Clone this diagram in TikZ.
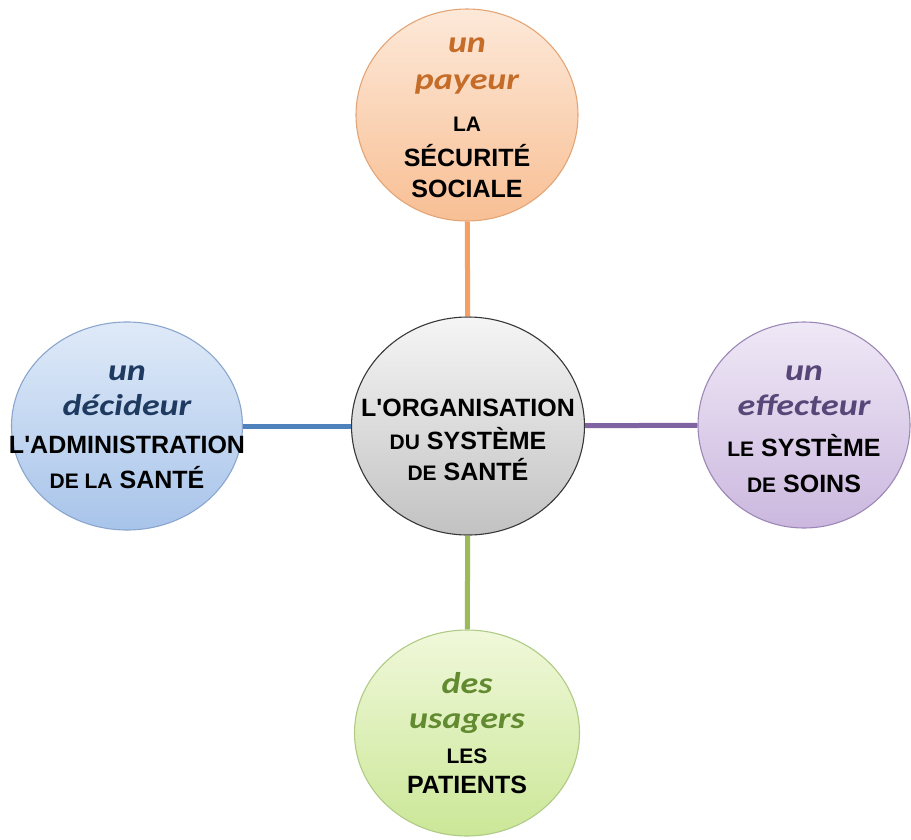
\documentclass[tikz,border=0pt]{standalone}
\usepackage{fontspec}
\setmainfont{Liberation Sans}[Ligatures=TeXOff]
\newfontfamily\itfont[FakeStretch=1.2]{Carlito}
\usetikzlibrary{shapes.geometric}
\definecolor{payFillT}{HTML}{FDE9D9}
\definecolor{payFillB}{HTML}{F8BF94}
\definecolor{payEdge}{HTML}{E3A576}
\definecolor{payLine}{HTML}{F5A062}
\definecolor{payText}{HTML}{C46C28}
\definecolor{decFillT}{HTML}{DFEAF8}
\definecolor{decFillB}{HTML}{A8C4EA}
\definecolor{decEdge}{HTML}{8AA6CE}
\definecolor{decLine}{HTML}{4F81BD}
\definecolor{decText}{HTML}{1F3A60}
\definecolor{effFillT}{HTML}{EFE8F6}
\definecolor{effFillB}{HTML}{CCB8DF}
\definecolor{effEdge}{HTML}{9C88B6}
\definecolor{effLine}{HTML}{8064A2}
\definecolor{effText}{HTML}{574677}
\definecolor{usaFillT}{HTML}{F0F8DA}
\definecolor{usaFillB}{HTML}{CBE797}
\definecolor{usaEdge}{HTML}{AFCB85}
\definecolor{usaLine}{HTML}{9BBB59}
\definecolor{usaText}{HTML}{628A30}
\definecolor{orgFillT}{HTML}{F5F5F5}
\definecolor{orgFillB}{HTML}{C2C2C2}
\definecolor{orgEdge}{HTML}{383838}
\begin{document}
\begin{tikzpicture}[x=1pt,y=-1pt,
  bubble/.style={ellipse, inner sep=0pt, line width=1.1pt},
  link/.style={line width=5pt},
  role/.style={anchor=base, inner sep=0pt, font=\itfont\bfseries\itshape\fontsize{30}{30}\selectfont},
  who/.style={anchor=base, inner sep=0pt, font=\bfseries\fontsize{25}{25}\selectfont, text=black},
]
\newcommand\smallw[1]{{\fontsize{21}{21}\selectfont #1}}
\useasboundingbox (0,0) rectangle (911,839);

% bubbles
\node[bubble, draw=orgEdge, top color=orgFillT, bottom color=orgFillB, minimum width=233pt, minimum height=218pt] (org) at (468,426) {};
\node[bubble, draw=payEdge, top color=payFillT, bottom color=payFillB, minimum width=222pt, minimum height=212pt] (pay) at (467,115) {};
\node[bubble, draw=decEdge, top color=decFillT, bottom color=decFillB, minimum width=231pt, minimum height=208pt] (dec) at (127,426) {};
\node[bubble, draw=effEdge, top color=effFillT, bottom color=effFillB, minimum width=212pt, minimum height=206pt] (eff) at (804,425) {};
\node[bubble, draw=usaEdge, top color=usaFillT, bottom color=usaFillB, minimum width=225pt, minimum height=206pt] (usa) at (467,733) {};

% connectors
\draw[link, payLine] (pay) -- (org);
\draw[link, decLine] (dec) -- (org);
\draw[link, effLine] (org) -- (eff);
\draw[link, usaLine] (org) -- (usa);

% top: payeur
\node[role, text=payText] (payA) at (467,52) {un};
\node[role, text=payText] (payB) at (467,89) {payeur};
\node[who] (payC) at (467,131) {\smallw{LA}};
\node[who] (payD) at (467,166) {SÉCURITÉ};
\node[who] (payE) at (467,197) {SOCIALE};

% left: decideur
\node[role, text=decText] (decA) at (127,380) {un};
\node[role, text=decText] (decB) at (127,415) {décideur};
\node[who] (decC) at (127,453) {L'ADMINISTRATION};
\node[who] (decD) at (127,488) {\smallw{DE LA} SANTÉ};

% center
\node[who] (orgA) at (468,416) {L'ORGANISATION};
\node[who] (orgB) at (468,449) {\smallw{DU} SYSTÈME};
\node[who] (orgC) at (468,480) {\smallw{DE} SANTÉ};

% right: effecteur
\node[role, text=effText] (effA) at (804,380) {un};
\node[role, text=effText] (effB) at (804,415) {effecteur};
\node[who] (effC) at (804,456) {\smallw{LE} SYSTÈME};
\node[who] (effD) at (804,492) {\smallw{DE} SOINS};

% bottom: usagers
\node[role, text=usaText] (usaA) at (467,693) {des};
\node[role, text=usaText] (usaB) at (467,728) {usagers};
\node[who] (usaC) at (467,763) {\smallw{LES}};
\node[who] (usaD) at (467,793) {PATIENTS};
\end{tikzpicture}
\end{document}
